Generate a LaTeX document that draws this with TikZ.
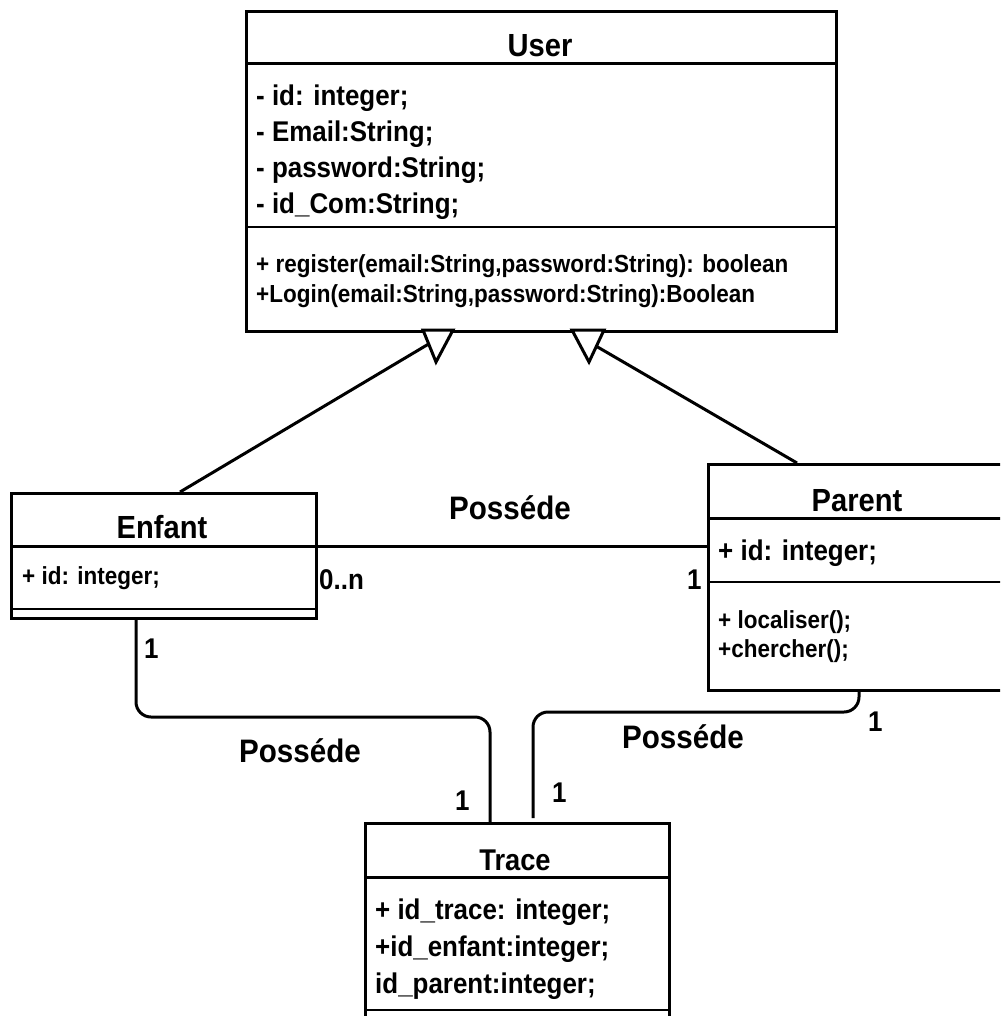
\documentclass[tikz,border=0pt]{standalone}
\usepackage{fontspec}
\setmainfont{Liberation Sans}[FakeStretch=0.91]
\begin{document}
\begin{tikzpicture}[x=1pt,y=-1pt,
  box/.style={draw, line width=3pt, anchor=north west, inner sep=0pt},
  thick sep/.style={line width=3pt},
  thin sep/.style={line width=1.6pt},
  ctitle/.style={anchor=base, inner sep=0pt, font=\bfseries\fontsize{32}{38}\selectfont},
  ctitlesm/.style={anchor=base, inner sep=0pt, font=\bfseries\fontsize{30}{36}\selectfont},
  attr/.style={anchor=base west, inner sep=0pt, font=\bfseries\fontsize{28.5}{34}\selectfont},
  meth/.style={anchor=base west, inner sep=0pt, font=\bfseries\fontsize{24.7}{30}\selectfont},
  conn/.style={line width=3pt, rounded corners=15pt},
  assoc/.style={anchor=base, inner sep=0pt, font=\bfseries\fontsize{32.5}{39}\selectfont},
  mult/.style={anchor=base west, inner sep=0pt, font=\bfseries\fontsize{28.5}{34}\selectfont},
  gen/.style={draw, line width=3pt, fill=white, line join=miter}
]
\fill[white] (0,0) rectangle (1000,1016);
\useasboundingbox (0,0) rectangle (1000,1016);
\clip (0,0) rectangle (1000,1016);

% class boxes
\node[box, minimum width=590pt, minimum height=320pt] (user) at (245,10) {};
\node[box, minimum width=305pt, minimum height=125pt] (enfant) at (10,492) {};
\node[box, minimum width=310pt, minimum height=226pt] (parent) at (707,463) {};
\node[box, minimum width=304pt, minimum height=210pt] (trace) at (364,822) {};

% compartment separators
\draw[thick sep] (245,64) -- (835,64);
\draw[thin sep] (245,227) -- (835,227);
\draw[thick sep] (10,546) -- (315,546);
\draw[thin sep] (10,609) -- (315,609);
\draw[thick sep] (707,518) -- (1017,518);
\draw[thin sep] (707,582) -- (1017,582);
\draw[thick sep] (364,877) -- (668,877);
\draw[thin sep] (364,1010) -- (668,1010);

% User
\node[ctitle] (userT) at (540,57) {User};
\node[attr] (u1) at (256,106) {- id: integer;};
\node[attr] (u2) at (256,142) {- Email:String;};
\node[attr] (u3) at (256,178) {- password:String;};
\node[attr] (u4) at (256,214) {- id\_Com:String;};
\node[meth] (u5) at (256,272) {+ register(email:String,password:String): boolean};
\node[meth] (u6) at (256,302) {+Login(email:String,password:String):Boolean};

% Enfant
\node[ctitle] (enfantT) at (162,538) {Enfant};
\node[meth] (e1) at (22,584) {+ id: integer;};

% Parent
\node[ctitle] (parentT) at (857,511) {Parent};
\node[attr] (p1) at (718,560) {+ id: integer;};
\node[meth] (p2) at (718,628) {+ localiser();};
\node[meth] (p3) at (718,657) {+chercher();};

% Trace
\node[ctitlesm] (traceT) at (515,870) {Trace};
\node[attr] (t1) at (375,919) {+ id\_trace: integer;};
\node[attr] (t2) at (375,956) {+id\_enfant:integer;};
\node[attr] (t3) at (375,993) {id\_parent:integer;};

% generalisation links with open triangles at User
\coordinate (gl) at (437,339);
\coordinate (gr) at (589,342);
\draw[line width=3pt] (enfant.north west) ++(170,0) coordinate (eTop) -- (gl);
\draw[line width=3pt] (parent.north west) ++(90,0) coordinate (pTop) -- (gr);
\draw[gen] (423,330) coordinate (gla) -- (453,330) coordinate (glb) -- (436,362) coordinate (glc) -- cycle;
\draw[gen] (572,330) coordinate (gra) -- (604,330) coordinate (grb) -- (589,362) coordinate (grc) -- cycle;

% associations
\coordinate (eRight) at (315,546);
\coordinate (pLeft) at (707,546);
\draw[line width=3pt] (eRight) -- (pLeft);

\coordinate (eBot) at (136,617);
\coordinate (tTopL) at (490,822);
\draw[conn] (eBot) |- (tTopL |- 0,717) -- (tTopL);

\coordinate (pBot) at (859,689);
\coordinate (tTopR) at (533,818);
\draw[conn] (pBot) |- (tTopR |- 0,712) -- (tTopR);

% association names
\node[assoc] (a1) at (510,519) {Posséde};
\node[assoc] (a2) at (300,762) {Posséde};
\node[assoc] (a3) at (683,748) {Posséde};

% multiplicities
\node[mult] (m1) at (319,589) {0..n};
\node[mult] (m2) at (687,589) {1};
\node[mult] (m3) at (144,658) {1};
\node[mult] (m4) at (455,810) {1};
\node[mult] (m5) at (552,802) {1};
\node[mult] (m6) at (868,731) {1};
\end{tikzpicture}
\end{document}
